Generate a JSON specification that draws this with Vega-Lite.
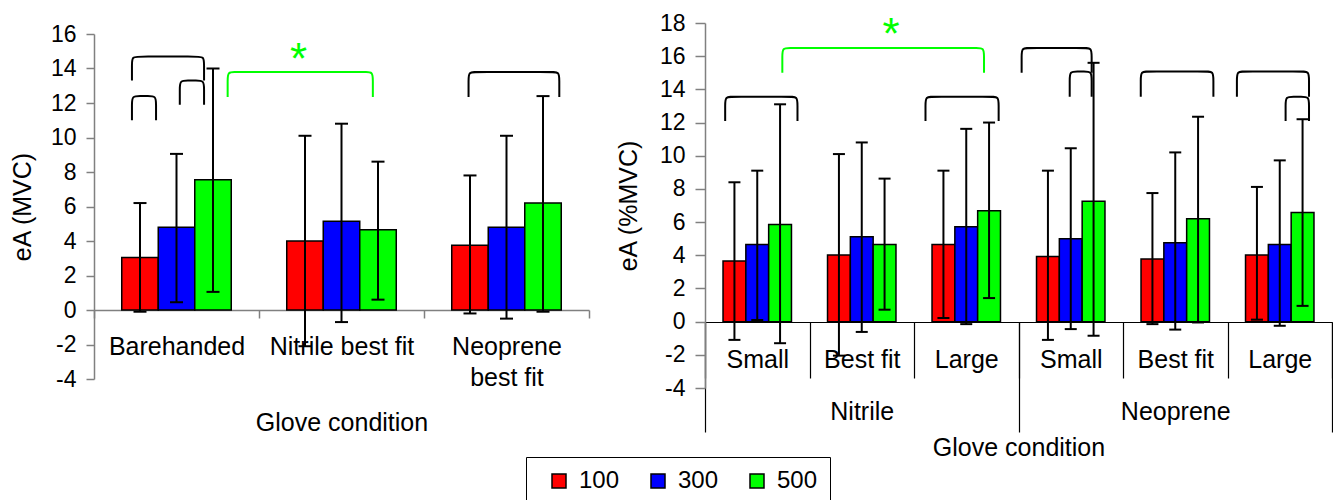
{
  "$schema": "https://vega.github.io/schema/vega-lite/v6.json",
  "background": "white",
  "padding": {"left": 10, "top": 12, "right": 0, "bottom": 0},
  "spacing": 26,
  "resolve": {"scale": {"xOffset": "independent"}},
  "config": {
    "view": {"stroke": null},
    "font": "Liberation Sans",
    "axis": {"labelFont": "Liberation Sans", "titleFont": "Liberation Sans", "labelColor": "black", "titleColor": "black", "titleFontWeight": "normal", "grid": false, "labelOverlap": false, "labelLimit": 400}
  },
  "datasets": {
    "left": [
      {"cond": "Barehanded", "series": "100", "value": 3.05, "lo": -0.1, "hi": 6.2},
      {"cond": "Barehanded", "series": "300", "value": 4.8, "lo": 0.45, "hi": 9.05},
      {"cond": "Barehanded", "series": "500", "value": 7.55, "lo": 1.05, "hi": 14.0},
      {"cond": "Nitrile best fit", "series": "100", "value": 4.0, "lo": -2.1, "hi": 10.1},
      {"cond": "Nitrile best fit", "series": "300", "value": 5.15, "lo": -0.7, "hi": 10.8},
      {"cond": "Nitrile best fit", "series": "500", "value": 4.65, "lo": 0.6, "hi": 8.6},
      {"cond": "Neoprene best fit", "series": "100", "value": 3.75, "lo": -0.2, "hi": 7.8},
      {"cond": "Neoprene best fit", "series": "300", "value": 4.8, "lo": -0.5, "hi": 10.1},
      {"cond": "Neoprene best fit", "series": "500", "value": 6.2, "lo": -0.1, "hi": 12.4}
    ],
    "right": [
      {"material": "Nitrile", "cond": "Nitrile|Small", "series": "100", "value": 3.65, "lo": -1.1, "hi": 8.4},
      {"material": "Nitrile", "cond": "Nitrile|Small", "series": "300", "value": 4.65, "lo": 0.1, "hi": 9.1},
      {"material": "Nitrile", "cond": "Nitrile|Small", "series": "500", "value": 5.85, "lo": -1.3, "hi": 13.1},
      {"material": "Nitrile", "cond": "Nitrile|Best fit", "series": "100", "value": 4.02, "lo": -2.05, "hi": 10.1},
      {"material": "Nitrile", "cond": "Nitrile|Best fit", "series": "300", "value": 5.12, "lo": -0.62, "hi": 10.8},
      {"material": "Nitrile", "cond": "Nitrile|Best fit", "series": "500", "value": 4.65, "lo": 0.72, "hi": 8.62},
      {"material": "Nitrile", "cond": "Nitrile|Large", "series": "100", "value": 4.65, "lo": 0.22, "hi": 9.1},
      {"material": "Nitrile", "cond": "Nitrile|Large", "series": "300", "value": 5.72, "lo": -0.15, "hi": 11.62},
      {"material": "Nitrile", "cond": "Nitrile|Large", "series": "500", "value": 6.68, "lo": 1.42, "hi": 12.0},
      {"material": "Neoprene", "cond": "Neoprene|Small", "series": "100", "value": 3.92, "lo": -1.1, "hi": 9.1},
      {"material": "Neoprene", "cond": "Neoprene|Small", "series": "300", "value": 5.0, "lo": -0.45, "hi": 10.45},
      {"material": "Neoprene", "cond": "Neoprene|Small", "series": "500", "value": 7.25, "lo": -0.85, "hi": 15.6},
      {"material": "Neoprene", "cond": "Neoprene|Best fit", "series": "100", "value": 3.78, "lo": -0.15, "hi": 7.75},
      {"material": "Neoprene", "cond": "Neoprene|Best fit", "series": "300", "value": 4.75, "lo": -0.48, "hi": 10.2},
      {"material": "Neoprene", "cond": "Neoprene|Best fit", "series": "500", "value": 6.2, "lo": -0.05, "hi": 12.35},
      {"material": "Neoprene", "cond": "Neoprene|Large", "series": "100", "value": 4.02, "lo": 0.12, "hi": 8.12},
      {"material": "Neoprene", "cond": "Neoprene|Large", "series": "300", "value": 4.65, "lo": -0.25, "hi": 9.72},
      {"material": "Neoprene", "cond": "Neoprene|Large", "series": "500", "value": 6.58, "lo": 0.95, "hi": 12.2}
    ],
    "leftBr": [
      {"id": "L1", "kind": "within", "o": 1, "bx": 0.23, "by": 11.0},
      {"id": "L1", "kind": "within", "o": 2, "bx": 0.23, "by": 11.95},
      {"id": "L1", "kind": "within", "o": 3, "bx": 0.23, "by": 12.4},
      {"id": "L1", "kind": "within", "o": 4, "bx": 0.28, "by": 12.4},
      {"id": "L1", "kind": "within", "o": 5, "bx": 0.326, "by": 12.4},
      {"id": "L1", "kind": "within", "o": 6, "bx": 0.376, "by": 12.4},
      {"id": "L1", "kind": "within", "o": 7, "bx": 0.376, "by": 11.95},
      {"id": "L1", "kind": "within", "o": 8, "bx": 0.376, "by": 11.0},
      {"id": "L2", "kind": "within", "o": 1, "bx": 0.52, "by": 11.9},
      {"id": "L2", "kind": "within", "o": 2, "bx": 0.52, "by": 12.85},
      {"id": "L2", "kind": "within", "o": 3, "bx": 0.52, "by": 13.3},
      {"id": "L2", "kind": "within", "o": 4, "bx": 0.57, "by": 13.3},
      {"id": "L2", "kind": "within", "o": 5, "bx": 0.617, "by": 13.3},
      {"id": "L2", "kind": "within", "o": 6, "bx": 0.667, "by": 13.3},
      {"id": "L2", "kind": "within", "o": 7, "bx": 0.667, "by": 12.85},
      {"id": "L2", "kind": "within", "o": 8, "bx": 0.667, "by": 11.9},
      {"id": "L3", "kind": "within", "o": 1, "bx": 0.23, "by": 13.3},
      {"id": "L3", "kind": "within", "o": 2, "bx": 0.23, "by": 14.25},
      {"id": "L3", "kind": "within", "o": 3, "bx": 0.23, "by": 14.7},
      {"id": "L3", "kind": "within", "o": 4, "bx": 0.28, "by": 14.7},
      {"id": "L3", "kind": "within", "o": 5, "bx": 0.617, "by": 14.7},
      {"id": "L3", "kind": "within", "o": 6, "bx": 0.667, "by": 14.7},
      {"id": "L3", "kind": "within", "o": 7, "bx": 0.667, "by": 14.25},
      {"id": "L3", "kind": "within", "o": 8, "bx": 0.667, "by": 13.3},
      {"id": "L4", "kind": "within", "o": 1, "bx": 2.27, "by": 12.35},
      {"id": "L4", "kind": "within", "o": 2, "bx": 2.27, "by": 13.35},
      {"id": "L4", "kind": "within", "o": 3, "bx": 2.27, "by": 13.8},
      {"id": "L4", "kind": "within", "o": 4, "bx": 2.32, "by": 13.8},
      {"id": "L4", "kind": "within", "o": 5, "bx": 2.77, "by": 13.8},
      {"id": "L4", "kind": "within", "o": 6, "bx": 2.82, "by": 13.8},
      {"id": "L4", "kind": "within", "o": 7, "bx": 2.82, "by": 13.35},
      {"id": "L4", "kind": "within", "o": 8, "bx": 2.82, "by": 12.35},
      {"id": "LG", "kind": "between", "o": 1, "bx": 0.81, "by": 12.35},
      {"id": "LG", "kind": "between", "o": 2, "bx": 0.81, "by": 13.35},
      {"id": "LG", "kind": "between", "o": 3, "bx": 0.81, "by": 13.8},
      {"id": "LG", "kind": "between", "o": 4, "bx": 0.86, "by": 13.8},
      {"id": "LG", "kind": "between", "o": 5, "bx": 1.64, "by": 13.8},
      {"id": "LG", "kind": "between", "o": 6, "bx": 1.69, "by": 13.8},
      {"id": "LG", "kind": "between", "o": 7, "bx": 1.69, "by": 13.35},
      {"id": "LG", "kind": "between", "o": 8, "bx": 1.69, "by": 12.35}
    ],
    "rightBr": [
      {"id": "R1", "kind": "within", "o": 1, "bx": 0.193, "by": 12.1},
      {"id": "R1", "kind": "within", "o": 2, "bx": 0.193, "by": 13.08},
      {"id": "R1", "kind": "within", "o": 3, "bx": 0.193, "by": 13.56},
      {"id": "R1", "kind": "within", "o": 4, "bx": 0.27, "by": 13.56},
      {"id": "R1", "kind": "within", "o": 5, "bx": 0.808, "by": 13.56},
      {"id": "R1", "kind": "within", "o": 6, "bx": 0.885, "by": 13.56},
      {"id": "R1", "kind": "within", "o": 7, "bx": 0.885, "by": 13.08},
      {"id": "R1", "kind": "within", "o": 8, "bx": 0.885, "by": 12.1},
      {"id": "R2", "kind": "within", "o": 1, "bx": 2.11, "by": 12.1},
      {"id": "R2", "kind": "within", "o": 2, "bx": 2.11, "by": 13.08},
      {"id": "R2", "kind": "within", "o": 3, "bx": 2.11, "by": 13.56},
      {"id": "R2", "kind": "within", "o": 4, "bx": 2.187, "by": 13.56},
      {"id": "R2", "kind": "within", "o": 5, "bx": 2.733, "by": 13.56},
      {"id": "R2", "kind": "within", "o": 6, "bx": 2.81, "by": 13.56},
      {"id": "R2", "kind": "within", "o": 7, "bx": 2.81, "by": 13.08},
      {"id": "R2", "kind": "within", "o": 8, "bx": 2.81, "by": 12.1},
      {"id": "R3", "kind": "within", "o": 1, "bx": 3.03, "by": 15.0},
      {"id": "R3", "kind": "within", "o": 2, "bx": 3.03, "by": 16.02},
      {"id": "R3", "kind": "within", "o": 3, "bx": 3.03, "by": 16.5},
      {"id": "R3", "kind": "within", "o": 4, "bx": 3.107, "by": 16.5},
      {"id": "R3", "kind": "within", "o": 5, "bx": 3.623, "by": 16.5},
      {"id": "R3", "kind": "within", "o": 6, "bx": 3.7, "by": 16.5},
      {"id": "R3", "kind": "within", "o": 7, "bx": 3.7, "by": 16.02},
      {"id": "R3", "kind": "within", "o": 8, "bx": 3.7, "by": 15.0},
      {"id": "R4", "kind": "within", "o": 1, "bx": 3.49, "by": 13.56},
      {"id": "R4", "kind": "within", "o": 2, "bx": 3.49, "by": 14.6},
      {"id": "R4", "kind": "within", "o": 3, "bx": 3.49, "by": 15.08},
      {"id": "R4", "kind": "within", "o": 4, "bx": 3.567, "by": 15.08},
      {"id": "R4", "kind": "within", "o": 5, "bx": 3.623, "by": 15.08},
      {"id": "R4", "kind": "within", "o": 6, "bx": 3.7, "by": 15.08},
      {"id": "R4", "kind": "within", "o": 7, "bx": 3.7, "by": 14.6},
      {"id": "R4", "kind": "within", "o": 8, "bx": 3.7, "by": 13.56},
      {"id": "R5", "kind": "within", "o": 1, "bx": 4.17, "by": 13.56},
      {"id": "R5", "kind": "within", "o": 2, "bx": 4.17, "by": 14.6},
      {"id": "R5", "kind": "within", "o": 3, "bx": 4.17, "by": 15.08},
      {"id": "R5", "kind": "within", "o": 4, "bx": 4.247, "by": 15.08},
      {"id": "R5", "kind": "within", "o": 5, "bx": 4.788, "by": 15.08},
      {"id": "R5", "kind": "within", "o": 6, "bx": 4.865, "by": 15.08},
      {"id": "R5", "kind": "within", "o": 7, "bx": 4.865, "by": 14.6},
      {"id": "R5", "kind": "within", "o": 8, "bx": 4.865, "by": 13.56},
      {"id": "R6", "kind": "within", "o": 1, "bx": 5.09, "by": 13.56},
      {"id": "R6", "kind": "within", "o": 2, "bx": 5.09, "by": 14.6},
      {"id": "R6", "kind": "within", "o": 3, "bx": 5.09, "by": 15.08},
      {"id": "R6", "kind": "within", "o": 4, "bx": 5.167, "by": 15.08},
      {"id": "R6", "kind": "within", "o": 5, "bx": 5.703, "by": 15.08},
      {"id": "R6", "kind": "within", "o": 6, "bx": 5.78, "by": 15.08},
      {"id": "R6", "kind": "within", "o": 7, "bx": 5.78, "by": 14.6},
      {"id": "R6", "kind": "within", "o": 8, "bx": 5.78, "by": 13.56},
      {"id": "R7", "kind": "within", "o": 1, "bx": 5.556, "by": 12.1},
      {"id": "R7", "kind": "within", "o": 2, "bx": 5.556, "by": 13.08},
      {"id": "R7", "kind": "within", "o": 3, "bx": 5.556, "by": 13.56},
      {"id": "R7", "kind": "within", "o": 4, "bx": 5.633, "by": 13.56},
      {"id": "R7", "kind": "within", "o": 5, "bx": 5.703, "by": 13.56},
      {"id": "R7", "kind": "within", "o": 6, "bx": 5.78, "by": 13.56},
      {"id": "R7", "kind": "within", "o": 7, "bx": 5.78, "by": 13.08},
      {"id": "R7", "kind": "within", "o": 8, "bx": 5.78, "by": 12.1},
      {"id": "RG", "kind": "between", "o": 1, "bx": 0.74, "by": 15.0},
      {"id": "RG", "kind": "between", "o": 2, "bx": 0.74, "by": 16.02},
      {"id": "RG", "kind": "between", "o": 3, "bx": 0.74, "by": 16.5},
      {"id": "RG", "kind": "between", "o": 4, "bx": 0.817, "by": 16.5},
      {"id": "RG", "kind": "between", "o": 5, "bx": 2.593, "by": 16.5},
      {"id": "RG", "kind": "between", "o": 6, "bx": 2.67, "by": 16.5},
      {"id": "RG", "kind": "between", "o": 7, "bx": 2.67, "by": 16.02},
      {"id": "RG", "kind": "between", "o": 8, "bx": 2.67, "by": 15.0}
    ],
    "leftStar": [{"bx": 1.24, "by": 13.7, "t": "*"}],
    "rightStar": [{"bx": 1.78, "by": 16.45, "t": "*"}]
  },
  "hconcat": [
    {
      "width": 495,
      "height": 356,
      "layer": [
        {
          "data": {"name": "left"},
          "mark": {"type": "bar", "stroke": "black", "strokeWidth": 1.5},
          "encoding": {
            "x": {"field": "cond", "type": "nominal", "sort": ["Barehanded", "Nitrile best fit", "Neoprene best fit"],
              "scale": {"paddingInner": 0, "paddingOuter": 0},
              "axis": {"title": "Glove condition", "orient": "bottom", "offset": -69, "tickBand": "extent", "tickSize": 8, "tickColor": "#808080", "tickWidth": 1.5, "domainColor": "#808080", "domainWidth": 1.5, "labelFontSize": 25, "labelPadding": 16, "labelAngle": 0, "labelLineHeight": 31, "labelExpr": "datum.label == 'Neoprene best fit' ? ['Neoprene', 'best fit'] : datum.label", "titleFontSize": 25, "titlePadding": 20}},
            "xOffset": {"field": "series", "type": "nominal", "sort": ["100", "300", "500"], "scale": {"paddingInner": 0, "paddingOuter": 0.76}},
            "y": {"field": "value", "type": "quantitative", "scale": {"domain": [-4, 16], "nice": false, "range": [356, 11]},
              "axis": {"title": "eA (MVC)", "values": [-4, -2, 0, 2, 4, 6, 8, 10, 12, 14, 16], "labelExpr": "toString(datum.value)", "tickSize": 8, "tickColor": "#808080", "tickWidth": 1.5, "domainColor": "#808080", "domainWidth": 1.5, "labelFontSize": 23, "labelPadding": 10, "titleFontSize": 25, "titlePadding": 15}},
            "color": {"field": "series", "type": "nominal", "scale": {"domain": ["100", "300", "500"], "range": ["#FF0000", "#0000FF", "#00FF00"]},
              "legend": {"orient": "none", "legendX": 432, "legendY": 434, "direction": "horizontal", "title": null, "symbolType": "square", "symbolSize": 196, "symbolStrokeColor": "black", "symbolStrokeWidth": 1.5, "labelFontSize": 24, "labelFont": "Liberation Sans", "labelColor": "black", "labelOffset": 8, "columnPadding": 17, "padding": 12, "symbolOffset": 9, "strokeColor": "black"}}
          }
        },
        {
          "data": {"name": "left"},
          "mark": {"type": "rule", "color": "black", "strokeWidth": 2},
          "encoding": {
            "x": {"field": "cond", "type": "nominal", "sort": ["Barehanded", "Nitrile best fit", "Neoprene best fit"], "scale": {"paddingInner": 0, "paddingOuter": 0}, "axis": null},
            "xOffset": {"field": "series", "type": "nominal", "sort": ["100", "300", "500"], "scale": {"paddingInner": 0, "paddingOuter": 0.76}},
            "y": {"field": "lo", "type": "quantitative", "scale": {"domain": [-4, 16], "nice": false, "range": [356, 11]},
              "axis": {"title": "eA (MVC)", "values": [-4, -2, 0, 2, 4, 6, 8, 10, 12, 14, 16], "labelExpr": "toString(datum.value)", "tickSize": 8, "tickColor": "#808080", "tickWidth": 1.5, "domainColor": "#808080", "domainWidth": 1.5, "labelFontSize": 23, "labelPadding": 10, "titleFontSize": 25, "titlePadding": 15}},
            "y2": {"field": "hi"}
          }
        },
        {
          "data": {"name": "left"},
          "mark": {"type": "point", "shape": "M-1,0L1,0", "size": 169, "stroke": "black", "strokeWidth": 2, "filled": false, "opacity": 1},
          "encoding": {
            "x": {"field": "cond", "type": "nominal", "sort": ["Barehanded", "Nitrile best fit", "Neoprene best fit"], "scale": {"paddingInner": 0, "paddingOuter": 0}, "axis": null},
            "xOffset": {"field": "series", "type": "nominal", "sort": ["100", "300", "500"], "scale": {"paddingInner": 0, "paddingOuter": 0.76}},
            "y": {"field": "lo", "type": "quantitative", "scale": {"domain": [-4, 16], "nice": false, "range": [356, 11]},
              "axis": {"title": "eA (MVC)", "values": [-4, -2, 0, 2, 4, 6, 8, 10, 12, 14, 16], "labelExpr": "toString(datum.value)", "tickSize": 8, "tickColor": "#808080", "tickWidth": 1.5, "domainColor": "#808080", "domainWidth": 1.5, "labelFontSize": 23, "labelPadding": 10, "titleFontSize": 25, "titlePadding": 15}}
          }
        },
        {
          "data": {"name": "left"},
          "mark": {"type": "point", "shape": "M-1,0L1,0", "size": 169, "stroke": "black", "strokeWidth": 2, "filled": false, "opacity": 1},
          "encoding": {
            "x": {"field": "cond", "type": "nominal", "sort": ["Barehanded", "Nitrile best fit", "Neoprene best fit"], "scale": {"paddingInner": 0, "paddingOuter": 0}, "axis": null},
            "xOffset": {"field": "series", "type": "nominal", "sort": ["100", "300", "500"], "scale": {"paddingInner": 0, "paddingOuter": 0.76}},
            "y": {"field": "hi", "type": "quantitative", "scale": {"domain": [-4, 16], "nice": false, "range": [356, 11]},
              "axis": {"title": "eA (MVC)", "values": [-4, -2, 0, 2, 4, 6, 8, 10, 12, 14, 16], "labelExpr": "toString(datum.value)", "tickSize": 8, "tickColor": "#808080", "tickWidth": 1.5, "domainColor": "#808080", "domainWidth": 1.5, "labelFontSize": 23, "labelPadding": 10, "titleFontSize": 25, "titlePadding": 15}}
          }
        },
        {
          "data": {"name": "leftBr"},
          "transform": [{"filter": "datum.kind == 'within'"}],
          "mark": {"type": "line", "interpolate": "basis", "color": "black", "strokeWidth": 2},
          "encoding": {
            "x": {"field": "bx", "type": "quantitative", "scale": {"domain": [0, 3], "nice": false, "zero": false}, "axis": null},
            "y": {"field": "by", "type": "quantitative", "scale": {"domain": [-4, 16], "nice": false, "range": [356, 11]},
              "axis": {"title": "eA (MVC)", "values": [-4, -2, 0, 2, 4, 6, 8, 10, 12, 14, 16], "labelExpr": "toString(datum.value)", "tickSize": 8, "tickColor": "#808080", "tickWidth": 1.5, "domainColor": "#808080", "domainWidth": 1.5, "labelFontSize": 23, "labelPadding": 10, "titleFontSize": 25, "titlePadding": 15}},
            "detail": {"field": "id"},
            "order": {"field": "o"}
          }
        },
        {
          "data": {"name": "leftBr"},
          "transform": [{"filter": "datum.kind == 'between'"}],
          "mark": {"type": "line", "interpolate": "basis", "color": "#00FF00", "strokeWidth": 2},
          "encoding": {
            "x": {"field": "bx", "type": "quantitative", "scale": {"domain": [0, 3], "nice": false, "zero": false}, "axis": null},
            "y": {"field": "by", "type": "quantitative", "scale": {"domain": [-4, 16], "nice": false, "range": [356, 11]},
              "axis": {"title": "eA (MVC)", "values": [-4, -2, 0, 2, 4, 6, 8, 10, 12, 14, 16], "labelExpr": "toString(datum.value)", "tickSize": 8, "tickColor": "#808080", "tickWidth": 1.5, "domainColor": "#808080", "domainWidth": 1.5, "labelFontSize": 23, "labelPadding": 10, "titleFontSize": 25, "titlePadding": 15}},
            "detail": {"field": "id"},
            "order": {"field": "o"}
          }
        },
        {
          "data": {"name": "leftStar"},
          "mark": {"type": "text", "color": "#00FF00", "fontSize": 44, "baseline": "alphabetic", "font": "Liberation Sans"},
          "encoding": {
            "x": {"field": "bx", "type": "quantitative", "scale": {"domain": [0, 3], "nice": false, "zero": false}, "axis": null},
            "y": {"field": "by", "type": "quantitative", "scale": {"domain": [-4, 16], "nice": false, "range": [356, 11]},
              "axis": {"title": "eA (MVC)", "values": [-4, -2, 0, 2, 4, 6, 8, 10, 12, 14, 16], "labelExpr": "toString(datum.value)", "tickSize": 8, "tickColor": "#808080", "tickWidth": 1.5, "domainColor": "#808080", "domainWidth": 1.5, "labelFontSize": 23, "labelPadding": 10, "titleFontSize": 25, "titlePadding": 15}},
            "text": {"field": "t"}
          }
        }
      ],
      "resolve": {"scale": {"x": "independent"}}
    },
    {
      "width": 627,
      "height": 365,
      "layer": [
        {
          "data": {"name": "right"},
          "mark": {"type": "bar", "stroke": "black", "strokeWidth": 1.5},
          "encoding": {
            "x": {"field": "cond", "type": "nominal", "sort": ["Nitrile|Small", "Nitrile|Best fit", "Nitrile|Large", "Neoprene|Small", "Neoprene|Best fit", "Neoprene|Large"],
              "scale": {"paddingInner": 0, "paddingOuter": 0},
              "axis": {"title": null, "orient": "bottom", "offset": -66, "tickBand": "extent", "tickSize": 56, "tickColor": "black", "tickWidth": 1.2, "domainColor": "black", "domainWidth": 1.2, "labelFontSize": 25, "labelPadding": -31, "labelAngle": 0, "labelExpr": "split(datum.label, '|')[1]"}},
            "xOffset": {"field": "series", "type": "nominal", "sort": ["100", "300", "500"], "scale": {"paddingInner": 0, "paddingOuter": 0.79}},
            "y": {"field": "value", "type": "quantitative", "scale": {"domain": [-4, 18], "nice": false},
              "axis": {"title": "eA (%MVC)", "values": [-4, -2, 0, 2, 4, 6, 8, 10, 12, 14, 16, 18], "labelExpr": "toString(datum.value)", "tickSize": 10, "tickColor": "#808080", "tickWidth": 1.5, "domainColor": "#808080", "domainWidth": 1.5, "labelFontSize": 23, "labelPadding": 10, "titleFontSize": 25, "titlePadding": 18}},
            "color": {"field": "series", "type": "nominal", "scale": {"domain": ["100", "300", "500"], "range": ["#FF0000", "#0000FF", "#00FF00"]}}
          }
        },
        {
          "data": {"name": "right"},
          "mark": {"type": "rule", "color": "black", "strokeWidth": 2},
          "encoding": {
            "x": {"field": "cond", "type": "nominal", "sort": ["Nitrile|Small", "Nitrile|Best fit", "Nitrile|Large", "Neoprene|Small", "Neoprene|Best fit", "Neoprene|Large"], "scale": {"paddingInner": 0, "paddingOuter": 0}, "axis": null},
            "xOffset": {"field": "series", "type": "nominal", "sort": ["100", "300", "500"], "scale": {"paddingInner": 0, "paddingOuter": 0.79}},
            "y": {"field": "lo", "type": "quantitative", "scale": {"domain": [-4, 18], "nice": false},
              "axis": {"title": "eA (%MVC)", "values": [-4, -2, 0, 2, 4, 6, 8, 10, 12, 14, 16, 18], "labelExpr": "toString(datum.value)", "tickSize": 10, "tickColor": "#808080", "tickWidth": 1.5, "domainColor": "#808080", "domainWidth": 1.5, "labelFontSize": 23, "labelPadding": 10, "titleFontSize": 25, "titlePadding": 18}},
            "y2": {"field": "hi"}
          }
        },
        {
          "data": {"name": "right"},
          "mark": {"type": "point", "shape": "M-1,0L1,0", "size": 144, "stroke": "black", "strokeWidth": 2, "filled": false, "opacity": 1},
          "encoding": {
            "x": {"field": "cond", "type": "nominal", "sort": ["Nitrile|Small", "Nitrile|Best fit", "Nitrile|Large", "Neoprene|Small", "Neoprene|Best fit", "Neoprene|Large"], "scale": {"paddingInner": 0, "paddingOuter": 0}, "axis": null},
            "xOffset": {"field": "series", "type": "nominal", "sort": ["100", "300", "500"], "scale": {"paddingInner": 0, "paddingOuter": 0.79}},
            "y": {"field": "lo", "type": "quantitative", "scale": {"domain": [-4, 18], "nice": false},
              "axis": {"title": "eA (%MVC)", "values": [-4, -2, 0, 2, 4, 6, 8, 10, 12, 14, 16, 18], "labelExpr": "toString(datum.value)", "tickSize": 10, "tickColor": "#808080", "tickWidth": 1.5, "domainColor": "#808080", "domainWidth": 1.5, "labelFontSize": 23, "labelPadding": 10, "titleFontSize": 25, "titlePadding": 18}}
          }
        },
        {
          "data": {"name": "right"},
          "mark": {"type": "point", "shape": "M-1,0L1,0", "size": 144, "stroke": "black", "strokeWidth": 2, "filled": false, "opacity": 1},
          "encoding": {
            "x": {"field": "cond", "type": "nominal", "sort": ["Nitrile|Small", "Nitrile|Best fit", "Nitrile|Large", "Neoprene|Small", "Neoprene|Best fit", "Neoprene|Large"], "scale": {"paddingInner": 0, "paddingOuter": 0}, "axis": null},
            "xOffset": {"field": "series", "type": "nominal", "sort": ["100", "300", "500"], "scale": {"paddingInner": 0, "paddingOuter": 0.79}},
            "y": {"field": "hi", "type": "quantitative", "scale": {"domain": [-4, 18], "nice": false},
              "axis": {"title": "eA (%MVC)", "values": [-4, -2, 0, 2, 4, 6, 8, 10, 12, 14, 16, 18], "labelExpr": "toString(datum.value)", "tickSize": 10, "tickColor": "#808080", "tickWidth": 1.5, "domainColor": "#808080", "domainWidth": 1.5, "labelFontSize": 23, "labelPadding": 10, "titleFontSize": 25, "titlePadding": 18}}
          }
        },
        {
          "data": {"name": "right"},
          "mark": {"type": "point", "opacity": 0},
          "encoding": {
            "x": {"field": "material", "type": "nominal", "sort": ["Nitrile", "Neoprene"], "scale": {"paddingInner": 0, "paddingOuter": 0},
              "axis": {"title": "Glove condition", "orient": "bottom", "offset": -66, "tickBand": "extent", "tickSize": 110, "tickColor": "black", "tickWidth": 1.2, "domain": false, "labelFontSize": 25, "labelPadding": -33, "labelAngle": 0, "titleFontSize": 25, "titlePadding": 3}},
            "y": {"field": "value", "type": "quantitative", "scale": {"domain": [-4, 18], "nice": false},
              "axis": {"title": "eA (%MVC)", "values": [-4, -2, 0, 2, 4, 6, 8, 10, 12, 14, 16, 18], "labelExpr": "toString(datum.value)", "tickSize": 10, "tickColor": "#808080", "tickWidth": 1.5, "domainColor": "#808080", "domainWidth": 1.5, "labelFontSize": 23, "labelPadding": 10, "titleFontSize": 25, "titlePadding": 18}}
          }
        },
        {
          "data": {"name": "rightBr"},
          "transform": [{"filter": "datum.kind == 'within'"}],
          "mark": {"type": "line", "interpolate": "basis", "color": "black", "strokeWidth": 2},
          "encoding": {
            "x": {"field": "bx", "type": "quantitative", "scale": {"domain": [0, 6], "nice": false, "zero": false}, "axis": null},
            "y": {"field": "by", "type": "quantitative", "scale": {"domain": [-4, 18], "nice": false},
              "axis": {"title": "eA (%MVC)", "values": [-4, -2, 0, 2, 4, 6, 8, 10, 12, 14, 16, 18], "labelExpr": "toString(datum.value)", "tickSize": 10, "tickColor": "#808080", "tickWidth": 1.5, "domainColor": "#808080", "domainWidth": 1.5, "labelFontSize": 23, "labelPadding": 10, "titleFontSize": 25, "titlePadding": 18}},
            "detail": {"field": "id"},
            "order": {"field": "o"}
          }
        },
        {
          "data": {"name": "rightBr"},
          "transform": [{"filter": "datum.kind == 'between'"}],
          "mark": {"type": "line", "interpolate": "basis", "color": "#00FF00", "strokeWidth": 2},
          "encoding": {
            "x": {"field": "bx", "type": "quantitative", "scale": {"domain": [0, 6], "nice": false, "zero": false}, "axis": null},
            "y": {"field": "by", "type": "quantitative", "scale": {"domain": [-4, 18], "nice": false},
              "axis": {"title": "eA (%MVC)", "values": [-4, -2, 0, 2, 4, 6, 8, 10, 12, 14, 16, 18], "labelExpr": "toString(datum.value)", "tickSize": 10, "tickColor": "#808080", "tickWidth": 1.5, "domainColor": "#808080", "domainWidth": 1.5, "labelFontSize": 23, "labelPadding": 10, "titleFontSize": 25, "titlePadding": 18}},
            "detail": {"field": "id"},
            "order": {"field": "o"}
          }
        },
        {
          "data": {"name": "rightStar"},
          "mark": {"type": "text", "color": "#00FF00", "fontSize": 44, "baseline": "alphabetic", "font": "Liberation Sans"},
          "encoding": {
            "x": {"field": "bx", "type": "quantitative", "scale": {"domain": [0, 6], "nice": false, "zero": false}, "axis": null},
            "y": {"field": "by", "type": "quantitative", "scale": {"domain": [-4, 18], "nice": false},
              "axis": {"title": "eA (%MVC)", "values": [-4, -2, 0, 2, 4, 6, 8, 10, 12, 14, 16, 18], "labelExpr": "toString(datum.value)", "tickSize": 10, "tickColor": "#808080", "tickWidth": 1.5, "domainColor": "#808080", "domainWidth": 1.5, "labelFontSize": 23, "labelPadding": 10, "titleFontSize": 25, "titlePadding": 18}},
            "text": {"field": "t"}
          }
        }
      ],
      "resolve": {"scale": {"x": "independent"}}
    }
  ]
}
